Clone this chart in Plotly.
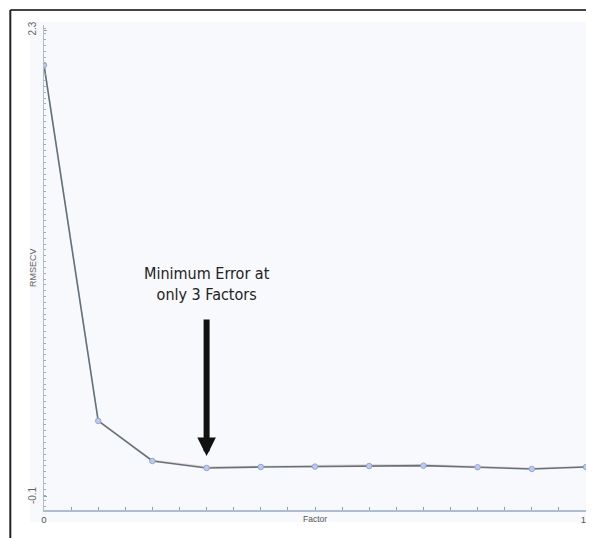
import plotly.graph_objects as go

factors = [0, 1, 2, 3, 4, 5, 6, 7, 8, 9, 10]
rmsecv = [2.12, 0.291, 0.085, 0.049, 0.054, 0.056, 0.059, 0.061, 0.053, 0.044, 0.054]
rmsec_shadow = [2.13, 0.295, 0.089, 0.056, 0.058, 0.062, 0.066, 0.066, 0.057, 0.048, 0.057]
y_ticks = [2.3, -0.1]
y_ticklabels = ["2.3", "-0.1"]
x_ticks = [0, 10]
x_ticklabels = ["0", "10"]
min_factor = 3

# page body adds an 8px offset; layout planned in window pixels
OFF = 8
W, H = 594 - OFF, 538 - OFF
L, T = 44 - OFF, 25 - OFF
R = W - (591 - OFF)
B = H - (510 - OFF)
pw, ph = W - L - R, H - T - B

def px(x):
    return (x - OFF - L) / pw

def py(y):
    return (H - B - (y - OFF)) / ph

fig = go.Figure()

fig.add_trace(go.Scatter(
    x=factors, y=rmsec_shadow, mode="lines",
    line=dict(color="rgba(240,150,110,0.35)", width=1.2),
    hoverinfo="skip", showlegend=False))

fig.add_trace(go.Scatter(
    x=factors, y=rmsecv, mode="lines+markers",
    line=dict(color="#5f7280", width=1.6),
    marker=dict(symbol="circle", size=5.5, color="#bccaec",
                line=dict(color="#93a6da", width=1)),
    showlegend=False))

# background panel and frame
fig.add_shape(type="rect", xref="paper", yref="paper",
              x0=px(30), x1=px(591), y0=py(522), y1=py(22),
              fillcolor="#f8f9fc", line=dict(width=0), layer="below")
fig.add_shape(type="line", xref="paper", yref="paper",
              x0=px(10), x1=px(600), y0=py(10), y1=py(10),
              line=dict(color="#444", width=2))
fig.add_shape(type="line", xref="paper", yref="paper",
              x0=px(10), x1=px(10), y0=py(10), y1=py(545),
              line=dict(color="#222", width=2))

# arrow pointing at the minimum
fig.add_annotation(x=min_factor, y=rmsecv[min_factor], xref="x", yref="y",
                   text="", showarrow=True, ax=0, ay=-(468 - 318),
                   arrowhead=2, arrowwidth=6, arrowsize=0.62,
                   arrowcolor="#111", standoff=12)
fig.add_annotation(x=min_factor, y=rmsecv[min_factor], xref="x", yref="y",
                   text="Minimum Error at<br>only 3 Factors", showarrow=False,
                   yshift=468 - 284, align="center",
                   font=dict(family="DejaVu Sans Condensed, Liberation Sans Narrow, Roboto",
                             size=16, color="#222"))

fig.add_annotation(x=0.5, y=0, xref="paper", yref="paper", text="Factor",
                   showarrow=False, yanchor="top", yshift=-2,
                   font=dict(family="Arial, Liberation Sans", size=8.5, color="#555"))
fig.add_annotation(x=px(33), y=py(268), xref="paper", yref="paper", text="RMSECV",
                   showarrow=False, textangle=-90, xanchor="center", yanchor="middle",
                   font=dict(family="Arial, Liberation Sans", size=9, color="#666"))

fig.update_xaxes(range=[0, 10], tickvals=x_ticks, ticktext=x_ticklabels,
                 ticklabeloverflow="allow",
                 showline=True, linecolor="#a9bfcf", linewidth=1.5,
                 ticks="inside", ticklen=3, tickcolor="#8aa0b0",
                 minor=dict(dtick=0.5, ticks="inside", ticklen=3, tickcolor="#8aa0b0"),
                 showgrid=False, zeroline=False,
                 tickfont=dict(size=9.5, color="#555"))
fig.update_yaxes(range=[-0.167, 2.326], tickvals=y_ticks, ticktext=y_ticklabels,
                 tickangle=-90, ticklabelstandoff=3,
                 showline=True, linecolor="#a9bfcf", linewidth=1,
                 ticks="inside", ticklen=3, tickcolor="#8aa0b0",
                 minor=dict(dtick=0.03, ticks="inside", ticklen=2, tickcolor="#9fb0c0"),
                 showgrid=False, zeroline=False,
                 tickfont=dict(size=10, color="#666"))

fig.update_layout(width=W, height=H, margin=dict(l=L, r=R, t=T, b=B),
                  paper_bgcolor="white", plot_bgcolor="rgba(0,0,0,0)",
                  font=dict(family="Arial, Liberation Sans"))

fig.write_html("out.html")
